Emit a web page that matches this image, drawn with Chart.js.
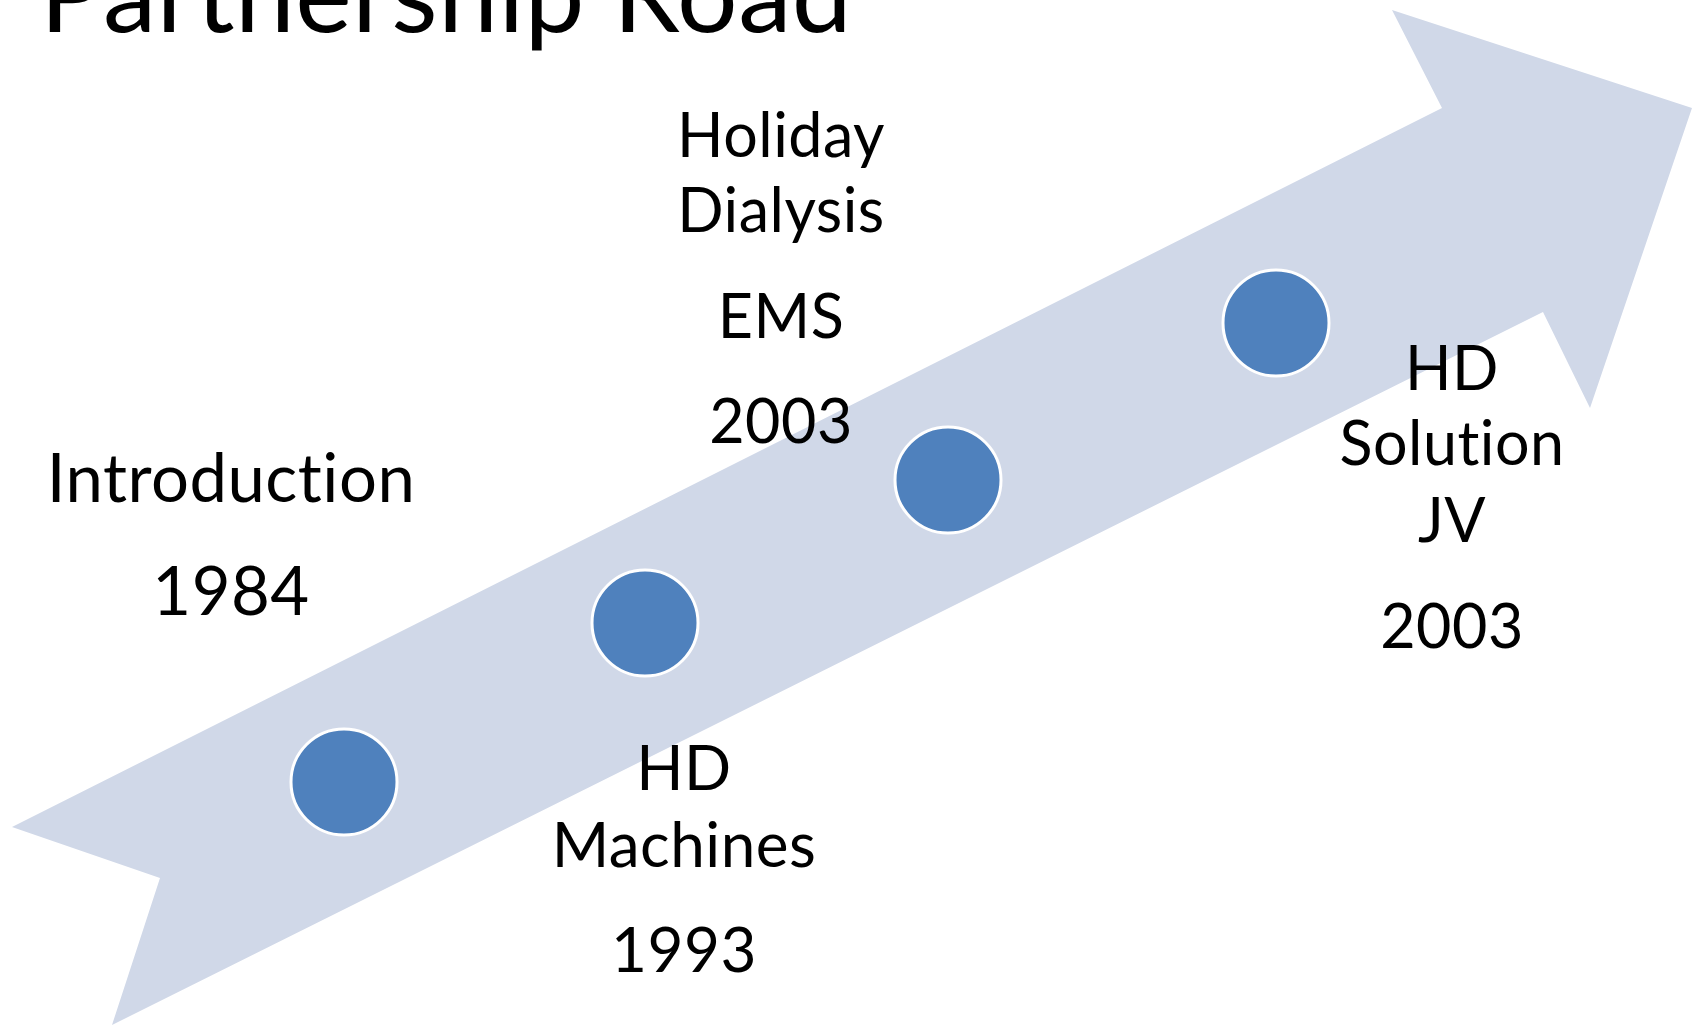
<!DOCTYPE html>
<html>
<head>
<meta charset="utf-8">
<script src="https://cdn.jsdelivr.net/npm/chart.js@4/dist/chart.umd.min.js"></script>
<style>
  html, body { margin: 0; padding: 0; background: #fff; }
  #wrap { width: 1700px; height: 1030px; }
</style>
</head>
<body>
<div id="wrap"><canvas id="roadchart" width="1700" height="1030"></canvas></div>
<script>
// arrow outline (tail, upper edge, head, lower edge)
const arrowX = [12, 1442, 1392, 1692, 1590, 1543, 112, 160];
const arrowY = [827, 108, 10, 108, 408, 312, 1025, 878];

// milestones on the arrow
const eventX = [344, 645, 948, 1276];
const eventY = [782, 623, 480, 323];

const eventLabels = [
    ['Introduction', '1984'],
    ['HD', 'Machines', '1993'],
    ['Holiday', 'Dialysis', 'EMS', '2003'],
    ['HD', 'Solution', 'JV', '2003']
];

// where each text block sits: centre x and baseline of every line
const labelCx = [231, 684, 781, 1452];
const labelBase = [
    [502, 615],
    [790, 867, 972],
    [157, 232, 338, 443],
    [390, 465, 542, 648]
];
const labelSize = [67, 62, 61, 61];

const title = 'Partnership Road';

const drawShapes = {
    id: 'drawShapes',
    beforeDatasetsDraw(chart) {
        const ctx = chart.ctx;
        const x = chart.scales.x, y = chart.scales.y;
        ctx.save();
        ctx.beginPath();
        arrowX.forEach(function (v, i) {
            const px = x.getPixelForValue(v), py = y.getPixelForValue(arrowY[i]);
            if (i === 0) ctx.moveTo(px, py); else ctx.lineTo(px, py);
        });
        ctx.closePath();
        ctx.fillStyle = '#d0d8e8';
        ctx.fill();
        ctx.restore();
    },
    afterDatasetsDraw(chart) {
        const ctx = chart.ctx;
        const x = chart.scales.x, y = chart.scales.y;
        ctx.save();
        ctx.fillStyle = '#000';
        ctx.textAlign = 'center';
        ctx.textBaseline = 'alphabetic';
        ctx.letterSpacing = '0.5px'; // keeps Lato from joining "ti"
        eventLabels.forEach(function (lines, i) {
            ctx.font = labelSize[i] + 'px Lato';
            lines.forEach(function (t, j) {
                ctx.fillText(t, x.getPixelForValue(labelCx[i]), y.getPixelForValue(labelBase[i][j]));
            });
        });
        ctx.textAlign = 'left';
        ctx.font = '107px Lato';
        ctx.fillText(title, 40, 32);
        ctx.restore();
    }
};

new Chart(document.getElementById('roadchart'), {
    type: 'scatter',
    data: {
        datasets: [{
            label: 'milestones',
            data: eventX.map(function (v, i) { return { x: v, y: eventY[i] }; }),
            backgroundColor: '#4f81bd',
            borderColor: '#ffffff',
            borderWidth: 3,
            pointRadius: 53,
            pointHoverRadius: 53
        }]
    },
    options: {
        responsive: false,
        animation: false,
        layout: { padding: 0, autoPadding: false },
        plugins: {
            legend: { display: false },
            tooltip: { enabled: false }
        },
        scales: {
            x: { type: 'linear', min: 0, max: 1700, display: false },
            y: { type: 'linear', min: 0, max: 1030, reverse: true, display: false }
        }
    },
    plugins: [drawShapes]
});
</script>
</body>
</html>
